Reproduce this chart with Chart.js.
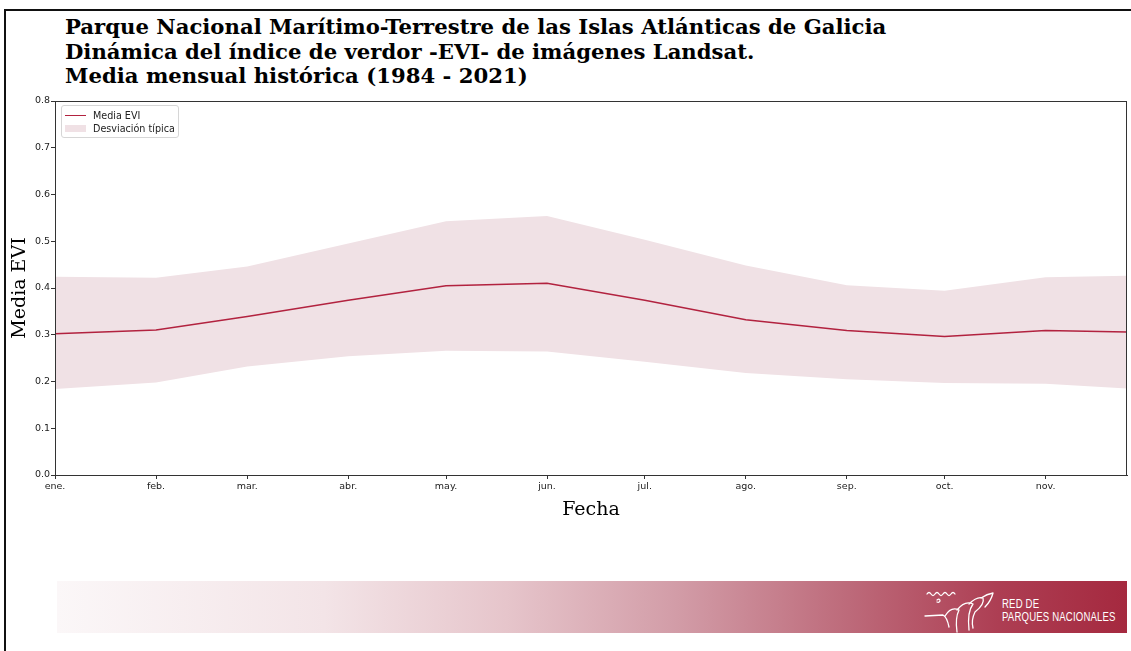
<!DOCTYPE html>
<html lang="es">
<head>
<meta charset="utf-8">
<title>Dinámica EVI - Islas Atlánticas de Galicia</title>
<script src="https://cdn.jsdelivr.net/npm/chart.js@4.4.0/dist/chart.umd.min.js"></script>
<style>
  html, body { margin: 0; padding: 0; background: #fff; }
  body { width: 1131px; height: 651px; position: relative; overflow: hidden; font-family: 'DejaVu Sans', sans-serif; }
  .marco { position: absolute; left: 4px; top: 9px; right: -4px; bottom: -4px; border-top: 2px solid #111; border-left: 2px solid #111; }
  .titulo { position: absolute; left: 65px; top: 15px; font-family: 'DejaVu Serif', serif; font-weight: bold; font-size: 21.2px; line-height: 24.5px; color: #000; white-space: nowrap; }
  #contenedor { position: absolute; left: 0; top: 0; width: 1131px; height: 540px; }
  .leyenda { position: absolute; left: 61px; top: 105px; width: 116px; height: 31px; border: 1px solid #d6d6d6; border-radius: 3px; background: rgba(255,255,255,0.8); font-size: 9.6px; color: #222; }
  .leyenda .fila { position: absolute; left: 3px; height: 12px; display: flex; align-items: center; }
  .leyenda .muestra-linea { width: 21px; height: 0; border-top: 1.3px solid #b2223f; margin-right: 7px; }
  .leyenda .muestra-area { width: 21px; height: 7px; background: #f0e1e5; margin-right: 7px; }
  .banda { position: absolute; left: 57px; top: 581px; width: 1070px; height: 52px;
    background: linear-gradient(to right, #fbf7f8 0%, #f3e4e7 25%, #e6c5cb 42%, #d29ca7 58%, #bd6a7a 74%, #ad3e53 88%, #a5293f 100%); }
  .logo-texto { position: absolute; left: 945px; top: 17px; color: #fff; font-family: 'Liberation Sans', sans-serif; font-size: 12px; line-height: 13px; transform: scaleX(0.8); transform-origin: left top; white-space: nowrap; letter-spacing: 0.2px; }
  .logo-dibujo { position: absolute; left: 866px; top: 7px; }
</style>
</head>
<body>
<div class="marco"></div>
<div class="titulo">Parque Nacional Marítimo-Terrestre de las Islas Atlánticas de Galicia<br>Dinámica del índice de verdor -EVI- de imágenes Landsat.<br>Media mensual histórica (1984 - 2021)</div>
<div id="contenedor"><canvas id="graficoEVI"></canvas></div>
<div class="leyenda">
  <div class="fila" style="top:3px"><span class="muestra-linea"></span>Media EVI</div>
  <div class="fila" style="top:16px"><span class="muestra-area"></span>Desviación típica</div>
</div>
<div class="banda">
  <svg class="logo-dibujo" width="80" height="48" viewBox="0 0 80 48">
    <g fill="none" stroke="#fff" stroke-width="1.3" stroke-linecap="round" stroke-linejoin="round">
      <path d="M4 6 q2 -3 4 0 q2 3 4 0 q2 -3 4 0 q2 3 4 0 q2 -3 4 0 q2 3 4 0 q2 -3 4 0"/>
      <path d="M14 12 q3 -2 3 1 q-1 2 -3 1"/>
      <path d="M2 28 l18 -1 q4 2 6 12"/>
      <path d="M22 28 q6 -10 14 -6 q-4 8 -2 22"/>
      <path d="M34 22 q8 -10 16 -6 q-6 8 -4 26"/>
      <path d="M46 16 q8 -8 14 -6 q2 6 -8 14 q-4 8 -2 16"/>
      <path d="M58 10 q6 -4 12 -5 q-2 8 -8 14"/>
    </g>
  </svg>
  <div class="logo-texto">RED DE<br>PARQUES NACIONALES</div>
</div>
<script>
// Meses (etiquetas del eje X) y día del año en que empieza cada mes
const meses = ['ene.', 'feb.', 'mar.', 'abr.', 'may.', 'jun.', 'jul.', 'ago.', 'sep.', 'oct.', 'nov.', 'dic.'];
const diaInicioMes = [0, 31, 59, 90, 120, 151, 181, 212, 243, 273, 304, 334];
const diaFinEje = 329;

// Media mensual del EVI y límites de la desviación típica
const mediaEVI = [0.302, 0.310, 0.339, 0.374, 0.405, 0.410, 0.374, 0.332, 0.309, 0.296, 0.309, 0.305];
const limiteSuperior = [0.424, 0.422, 0.446, 0.495, 0.543, 0.554, 0.503, 0.448, 0.406, 0.394, 0.423, 0.427];
const limiteInferior = [0.184, 0.198, 0.232, 0.254, 0.266, 0.264, 0.242, 0.218, 0.205, 0.197, 0.195, 0.183];

// Eje Y
const minY = 0;
const maxY = 0.8;
const pasoY = 0.1;

const aPuntos = (valores) => valores.map((v, i) => ({ x: diaInicioMes[i], y: v }));

// marco completo del área de dibujo (estilo matplotlib)
const marcoEjes = {
  id: 'marcoEjes',
  afterDraw(chart) {
    const { ctx, chartArea: { left, top, right, bottom } } = chart;
    ctx.save();
    ctx.strokeStyle = '#333';
    ctx.lineWidth = 1;
    ctx.strokeRect(left + 0.5, top + 0.5, right - left - 1, bottom - top);
    ctx.restore();
  }
};

const colorEje = '#333';
const fuenteTicks = { family: 'DejaVu Sans', size: 9.5 };

new Chart(document.getElementById('graficoEVI'), {
  type: 'line',
  data: {
    datasets: [
      {
        label: 'Media EVI',
        data: aPuntos(mediaEVI),
        borderColor: '#b2223f',
        borderWidth: 1.5,
        pointRadius: 0,
        tension: 0,
        fill: false
      },
      {
        label: 'Desviación típica',
        data: aPuntos(limiteSuperior),
        borderWidth: 0,
        borderColor: 'rgba(0,0,0,0)',
        backgroundColor: '#f0e1e5',
        pointRadius: 0,
        tension: 0,
        fill: '+1'
      },
      {
        label: 'inferior',
        data: aPuntos(limiteInferior),
        borderWidth: 0,
        borderColor: 'rgba(0,0,0,0)',
        pointRadius: 0,
        tension: 0,
        fill: false
      }
    ]
  },
  options: {
    responsive: true,
    maintainAspectRatio: false,
    animation: false,
    layout: { padding: { top: 101, right: 4, left: 0, bottom: 0 } },
    plugins: {
      legend: { display: false },
      tooltip: { enabled: false },
      title: { display: false }
    },
    scales: {
      x: {
        type: 'linear',
        min: 0,
        max: diaFinEje,
        afterBuildTicks: (axis) => {
          axis.ticks = diaInicioMes.filter(d => d <= diaFinEje).map(d => ({ value: d }));
        },
        afterFit: (axis) => { axis.height = 65; },
        ticks: {
          autoSkip: false,
          maxRotation: 0,
          padding: 2,
          font: fuenteTicks,
          color: '#222',
          callback: (valor) => meses[diaInicioMes.indexOf(valor)]
        },
        grid: { drawOnChartArea: false, drawTicks: true, tickLength: 4, color: colorEje },
        border: { color: colorEje, width: 1 },
        title: {
          display: true,
          text: 'Fecha',
          color: '#000',
          font: { family: 'DejaVu Serif', size: 19 },
          padding: { top: 0, bottom: 19 }
        }
      },
      y: {
        min: minY,
        max: maxY,
        afterFit: (axis) => { axis.width = 55; },
        ticks: {
          stepSize: pasoY,
          padding: 1,
          font: fuenteTicks,
          color: '#222',
          callback: (valor) => valor.toFixed(1)
        },
        grid: { drawOnChartArea: false, drawTicks: true, tickLength: 4, color: colorEje },
        border: { color: colorEje, width: 1 },
        title: {
          display: true,
          text: 'Media EVI',
          color: '#000',
          font: { family: 'DejaVu Serif', size: 19 },
          padding: { top: 9, bottom: 0 }
        }
      }
    }
  },
  plugins: [marcoEjes]
});
</script>
</body>
</html>
